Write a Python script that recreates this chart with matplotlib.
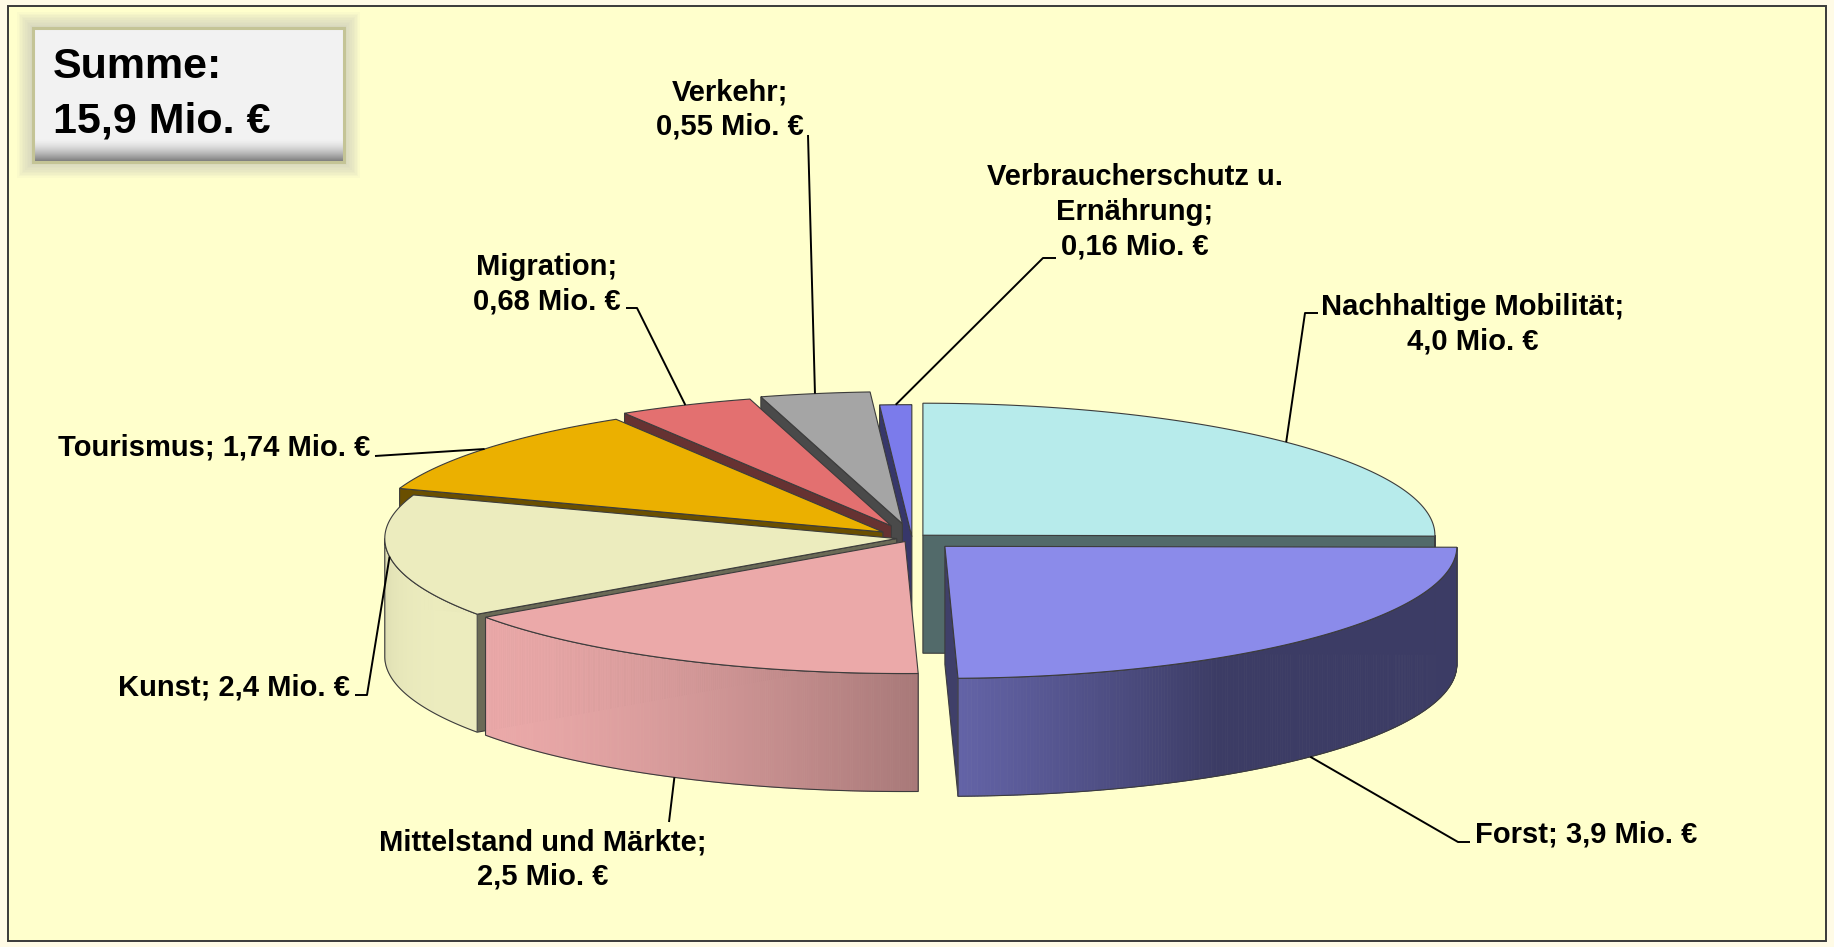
import numpy as np
import matplotlib
matplotlib.use("Agg")
import matplotlib.pyplot as plt
from matplotlib.patches import Polygon, Rectangle
from matplotlib.colors import to_rgb

# data
names = ["Nachhaltige Mobilität", "Forst", "Mittelstand und Märkte", "Kunst",
         "Tourismus", "Migration", "Verkehr", "Verbraucherschutz u.\nErnährung"]
values = [4.0, 3.9, 2.5, 2.4, 1.74, 0.68, 0.55, 0.16]
value_labels = ["4,0", "3,9", "2,5", "2,4", "1,74", "0,68", "0,55", "0,16"]
line_break = [True, False, True, False, False, True, True, True]

# style
colors = ["#b7ebeb", "#8b8bea", "#eba9a9", "#ececbe",
          "#ebb000", "#e37070", "#a5a5a5", "#7b7beb"]
explode = [0.03, 0.09, 0.03, 0.03, 0.073, 0.10, 0.11, 0.01]
EDGE = "#3c3c3c"
FONT = "Liberation Sans"

# layout in pixels
W, H = 1834, 947
CX, CY = 912, 538
RX, RY, DEPTH = 512, 132, 118
LINE_H = 34.5
label_pos = [(1473, 315), (1475, 842), (543, 850), (350, 695),
             (370, 455), (547, 275), (730, 100), (1135, 185)]
label_ha = ["center", "left", "center", "right", "right", "center", "center", "center"]
elbows = [[(1318, 313), (1305, 313)], [(1470, 842), (1458, 842)], [(669, 822)],
          [(355, 695), (367, 695)], [(375, 456)], [(626, 308), (637, 308)],
          [(808, 135)], [(1056, 258), (1043, 258)]]

fig = plt.figure(figsize=(W / 100, H / 100), dpi=100, facecolor="#fffbe6")
ax = fig.add_axes([0, 0, 1, 1])
ax.set_xlim(0, W)
ax.set_ylim(H, 0)
ax.axis("off")

ax.add_patch(Rectangle((8, 6), 1818, 935, facecolor="#ffffcc", edgecolor="#3a3a3a",
                       lw=1.4, zorder=0))


def shade(c, f):
    r, g, b = to_rgb(c)
    return (r * f, g * f, b * f)


def wall_factor(th):
    return max(0.43, 0.45 + 0.55 * np.cos(np.radians(th - 210)))


total = sum(values)
frac = np.array(values) / total
ends = 90 - 360 * np.cumsum(frac)
starts = ends + 360 * frac
mids = (starts + ends) / 2

apex = []
for e, m in zip(explode, mids):
    apex.append((CX + e * RX * np.cos(np.radians(m)), CY - e * RY * np.sin(np.radians(m))))


def arc(ax_, ay_, t1, t2, n=120, dz=0):
    th = np.radians(np.linspace(t1, t2, n))
    return np.column_stack([ax_ + RX * np.cos(th), ay_ - RY * np.sin(th) + dz])


order = np.argsort(-np.sin(np.radians(mids)))
for z, i in enumerate(order):
    ax_, ay_ = apex[i]
    t1, t2 = starts[i], ends[i]
    zo = 2 + z
    col = colors[i]

    # radial cut faces facing the viewer
    for t, nrm in ((t1, t1 + 90), (t2, t2 - 90)):
        if np.sin(np.radians(nrm)) < -1e-3:
            ex, ey = ax_ + RX * np.cos(np.radians(t)), ay_ - RY * np.sin(np.radians(t))
            quad = [(ax_, ay_), (ex, ey), (ex, ey + DEPTH), (ax_, ay_ + DEPTH)]
            ax.add_patch(Polygon(quad, closed=True, facecolor=shade(col, 0.45),
                                 edgecolor=EDGE, lw=0.8, zorder=zo))

    # outer wall, front half only, with shading strips
    th = np.linspace(t1, t2, 240)
    vis = th[np.sin(np.radians(th)) < 0]
    if len(vis) > 1:
        for a, b in zip(vis[:-1], vis[1:]):
            p = arc(ax_, ay_, a, b, n=2)
            q = arc(ax_, ay_, b, a, n=2, dz=DEPTH)
            c = shade(col, wall_factor((a + b) / 2 % 360))
            ax.add_patch(Polygon(np.vstack([p, q]), closed=True, facecolor=c,
                                 edgecolor=c, lw=0.6, zorder=zo))
        top = arc(ax_, ay_, vis[0], vis[-1])
        bot = arc(ax_, ay_, vis[-1], vis[0], dz=DEPTH)
        ax.add_patch(Polygon(np.vstack([top, bot]), closed=True, facecolor="none",
                             edgecolor=EDGE, lw=0.8, zorder=zo))

    # top face
    pts = np.vstack([[(ax_, ay_)], arc(ax_, ay_, t1, t2)])
    ax.add_patch(Polygon(pts, closed=True, facecolor=col, edgecolor=EDGE,
                         lw=0.8, zorder=zo))

# labels with leader lines
for i in range(len(values)):
    ax_, ay_ = apex[i]
    m = np.radians(mids[i])
    px, py = ax_ + RX * np.cos(m), ay_ - RY * np.sin(m)
    if np.sin(m) < -0.5:
        py += DEPTH
    path = elbows[i] + [(px, py)]
    xs, ys = zip(*path)
    ax.plot(xs, ys, color="black", lw=1.4, zorder=20, solid_capstyle="butt")

    sep = "\n" if line_break[i] else " "
    text = f"{names[i]};{sep}{value_labels[i]} Mio. €"
    x, y = label_pos[i]
    for k, line in enumerate(text.split("\n")):
        ax.text(x, y + k * LINE_H, line, ha=label_ha[i], va="baseline",
                fontsize=21, fontweight="bold", family=FONT, zorder=21)

# "Summe" box with glow
bx, by, bw, bh = 33, 28, 311, 134
for g in range(10, 0, -1):
    ax.add_patch(Rectangle((bx - g * 1.6, by - g * 1.6), bw + g * 3.2, bh + g * 3.2,
                           facecolor="#c0c0b8", edgecolor="none", alpha=0.08, zorder=30))
ax.add_patch(Rectangle((bx, by), bw, bh, facecolor="#f2f2f2", edgecolor="none", zorder=31))
n_strip = 24
for s in range(n_strip):
    f = s / (n_strip - 1)
    c = shade("#f2f2f2", 1 - 0.5 * f ** 1.6)
    ax.add_patch(Rectangle((bx, by + bh - 24 + s), bw, 1.05, facecolor=c,
                           edgecolor="none", zorder=32))
ax.add_patch(Rectangle((bx, by), bw, bh, facecolor="none", edgecolor="#c4c496",
                       lw=2.2, zorder=33))
ax.text(53, 78, "Summe:", fontsize=31, fontweight="bold", family=FONT,
        va="baseline", zorder=34)
ax.text(53, 132, f"{total:.1f}".replace(".", ",") + " Mio. €", fontsize=31,
        fontweight="bold", family=FONT, va="baseline", zorder=34)

fig.savefig("out.png", dpi=100, facecolor=fig.get_facecolor())
